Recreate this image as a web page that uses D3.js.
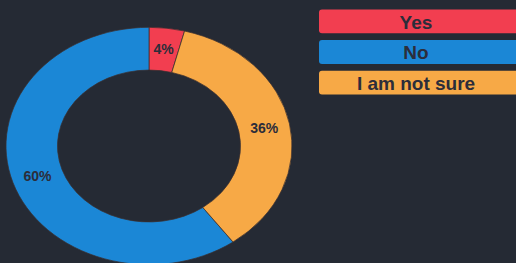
<!DOCTYPE html>
<html>
<head>
<meta charset="utf-8">
<script src="https://cdn.jsdelivr.net/npm/d3@7"></script>
<style>
  html, body { margin: 0; padding: 0; background: #252a34; overflow: hidden; }
  svg { display: block; }
</style>
</head>
<body>
<svg id="chart" width="516" height="263"></svg>
<script>
// answers, in legend order
let answers = ['Yes', 'No', 'I am not sure'];
let shares = [4, 60, 36];
let colours = ['#f23e50', '#1b87d6', '#f7a946'];
// order the slices are drawn clockwise from the top
let sliceOrder = ['Yes', 'I am not sure', 'No'];

let W = 516, H = 263;
let cx = 149, cy = 146;
let rOuter = 143, rInner = 91.5;
let squash = 0.83; // the ring is drawn a bit flattened

let svg = d3.select('#chart');
svg.append('rect').attr('width', W).attr('height', H).attr('fill', '#252a34');

let rows = answers.map((a, i) => ({ name: a, value: shares[i], colour: colours[i] }));

let pie = d3.pie()
  .value(d => d.value)
  .sort((a, b) => sliceOrder.indexOf(a.name) - sliceOrder.indexOf(b.name));
let arc = d3.arc().innerRadius(rInner).outerRadius(rOuter);
let labelArc = d3.arc().innerRadius((rInner + rOuter) / 2).outerRadius((rInner + rOuter) / 2);

let arcs = pie(rows);

let ring = svg.append('g')
  .attr('transform', 'translate(' + cx + ',' + cy + ') scale(1,' + squash + ')');
ring.selectAll('path')
  .data(arcs)
  .enter().append('path')
  .attr('d', arc)
  .attr('fill', d => d.data.colour)
  .attr('stroke', '#3a2f30')
  .attr('stroke-width', 0.8);

// percent labels sit at the slice centres (outside the squash so text is not flattened)
svg.append('g').selectAll('text')
  .data(arcs)
  .enter().append('text')
  .attr('x', d => cx + labelArc.centroid(d)[0])
  .attr('y', d => cy + labelArc.centroid(d)[1] * squash)
  .attr('text-anchor', 'middle')
  .attr('dominant-baseline', 'central')
  .attr('font-family', 'Liberation Sans, Arial, sans-serif')
  .attr('font-weight', 'bold')
  .attr('font-size', 14)
  .attr('fill', '#2c2d3a')
  .text(d => d.data.value + '%');

// legend: one coloured bar per answer
let y = d3.scaleBand().domain(answers).range([8, 96]).paddingInner(0.22).paddingOuter(0.05);
let legend = svg.append('g');
let item = legend.selectAll('g')
  .data(rows)
  .enter().append('g')
  .attr('transform', d => 'translate(319,' + y(d.name) + ')');
item.append('rect')
  .attr('width', 205)
  .attr('height', y.bandwidth())
  .attr('rx', 3)
  .attr('fill', d => d.colour);
item.append('text')
  .attr('x', 97)
  .attr('y', y.bandwidth() / 2 + 1)
  .attr('text-anchor', 'middle')
  .attr('dominant-baseline', 'central')
  .attr('font-family', 'Liberation Sans, Arial, sans-serif')
  .attr('font-weight', 'bold')
  .attr('font-size', 19)
  .attr('fill', '#2c2d3a')
  .text(d => d.name);
</script>
</body>
</html>
